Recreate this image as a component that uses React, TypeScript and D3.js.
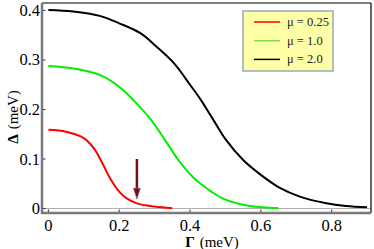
import * as d3 from 'd3';

const W = 374;
const H = 249;

// Γ (meV) and Δ (meV)
const redGamma = [0, 0.05, 0.1, 0.13, 0.15, 0.175, 0.2, 0.22, 0.25, 0.3, 0.35];
const redDelta = [0.159, 0.155, 0.142, 0.12, 0.095, 0.06, 0.034, 0.021, 0.0105, 0.004, 0.0005];

const greenGamma = [0, 0.07, 0.145, 0.2, 0.24, 0.29, 0.335, 0.37, 0.41, 0.43, 0.46, 0.5, 0.57, 0.65];
const greenDelta = [0.288, 0.283, 0.27, 0.246, 0.219, 0.179, 0.132, 0.095, 0.062, 0.05, 0.034, 0.018, 0.005, 0.0004];

const blackGamma = [0, 0.07, 0.145, 0.2, 0.26, 0.305, 0.355, 0.4, 0.43, 0.465, 0.5, 0.55, 0.6, 0.655, 0.71, 0.785, 0.84, 0.9];
const blackDelta = [0.401, 0.398, 0.389, 0.374, 0.354, 0.327, 0.293, 0.25, 0.22, 0.18, 0.14, 0.098, 0.068, 0.041, 0.024, 0.0105, 0.005, 0.0024];

const xTicks = [0, 0.2, 0.4, 0.6, 0.8];
const yTicks = [0, 0.1, 0.2, 0.3, 0.4];

const legendLabels = ['μ = 0.25', 'μ = 1.0', 'μ = 2.0'];
const legendColors = ['#ff0000', '#88dd44', '#000000'];

const arrowGamma = 0.25;
const arrowFrom = 0.1;
const arrowTo = 0.019;

const series = [
  { gamma: redGamma, delta: redDelta, color: '#ff0000' },
  { gamma: greenGamma, delta: greenDelta, color: '#00ee00' },
  { gamma: blackGamma, delta: blackDelta, color: '#000000' },
];

const serif = "'Times New Roman', Times, 'Liberation Serif', 'DejaVu Serif', serif";

export default function App() {
  const x = d3.scaleLinear().domain([-0.018, 0.911]).range([42, 371]);
  const y = d3.scaleLinear().domain([-0.009, 0.415]).range([213, 3]);

  const line = d3
    .line<[number, number]>()
    .x((d) => x(d[0]))
    .y((d) => y(d[1]))
    .curve(d3.curveCatmullRom.alpha(0.5));

  const [x0, x1] = x.range();
  const [y0, y1] = y.range();

  const ax = x(arrowGamma);

  return (
    <svg
      width={W}
      height={H}
      style={{ position: 'absolute', left: 0, top: 0, background: '#fff' }}
    >
      {/* zero line */}
      <line x1={x0 + 2} x2={x1} y1={y(0)} y2={y(0)} stroke="#b0b0b0" strokeWidth={1} />

      {/* curves */}
      {series.map((s, i) => (
        <path
          key={i}
          d={line(s.gamma.map((g, j) => [g, s.delta[j]] as [number, number])) || ''}
          fill="none"
          stroke={s.color}
          strokeWidth={2}
        />
      ))}

      {/* arrow */}
      <line x1={ax} x2={ax} y1={y(arrowFrom)} y2={y(arrowTo) - 9} stroke="#6e1414" strokeWidth={2.5} />
      <path
        d={`M${ax - 3.5},${y(arrowTo) - 11} L${ax + 3.5},${y(arrowTo) - 11} L${ax},${y(arrowTo)} Z`}
        fill="#6e1414"
        stroke="#9a7070"
        strokeWidth={0.6}
      />

      {/* frame: top and right thin black, left and bottom thick gray */}
      <line x1={x0} x2={x1} y1={y1} y2={y1} stroke="#000" strokeWidth={1.2} />
      <line x1={x1} x2={x1} y1={y1} y2={y0} stroke="#000" strokeWidth={1.2} />
      <line x1={x0} x2={x0} y1={y1} y2={y0 + 1} stroke="#7a7a7a" strokeWidth={2.5} />
      <line x1={x0 - 1} x2={x1} y1={y0} y2={y0} stroke="#7a7a7a" strokeWidth={2.5} />

      {/* x ticks */}
      {xTicks.map((t) => (
        <g key={`x${t}`}>
          <line x1={x(t)} x2={x(t)} y1={y0 - 1} y2={y0 - 3.5} stroke="#333" strokeWidth={1} />
          <text x={x(t)} y={231} textAnchor="middle" fontSize={16.5} style={{ fontFamily: serif }} fill="#000">
            {d3.format('')(t)}
          </text>
        </g>
      ))}

      {/* y ticks */}
      {yTicks.map((t) => (
        <g key={`y${t}`}>
          <line x1={x0 + 1} x2={x0 + 3.5} y1={y(t)} y2={y(t)} stroke="#333" strokeWidth={1} />
          <text x={40} y={y(t) + 5.5} textAnchor="end" fontSize={16.5} style={{ fontFamily: serif }} fill="#000">
            {d3.format('')(t)}
          </text>
        </g>
      ))}

      {/* axis labels */}
      <text x={212} y={247} textAnchor="middle" fontSize={15} style={{ fontFamily: serif }} fill="#000">
        <tspan fontWeight="bold">Γ</tspan>
        <tspan dx={5}>(meV)</tspan>
      </text>
      <text
        transform={`translate(18,${y(0.185)}) rotate(-90)`}
        textAnchor="middle"
        fontSize={15}
        style={{ fontFamily: serif }}
        fill="#000"
      >
        <tspan fontWeight="bold">Δ</tspan>
        <tspan dx={5}>(meV)</tspan>
      </text>

      {/* legend */}
      <rect x={243} y={11} width={90} height={60} fill="#ffffa8" stroke="#7f93b5" strokeWidth={1.2} />
      {legendLabels.map((lab, i) => {
        const ly = 22 + i * 18.7;
        return (
          <g key={lab}>
            <line x1={254} x2={280} y1={ly} y2={ly} stroke={legendColors[i]} strokeWidth={1.5} />
            <text x={287} y={ly + 4} fontSize={12.5} style={{ fontFamily: serif }} fill="#222">
              {lab}
            </text>
          </g>
        );
      })}
    </svg>
  );
}
